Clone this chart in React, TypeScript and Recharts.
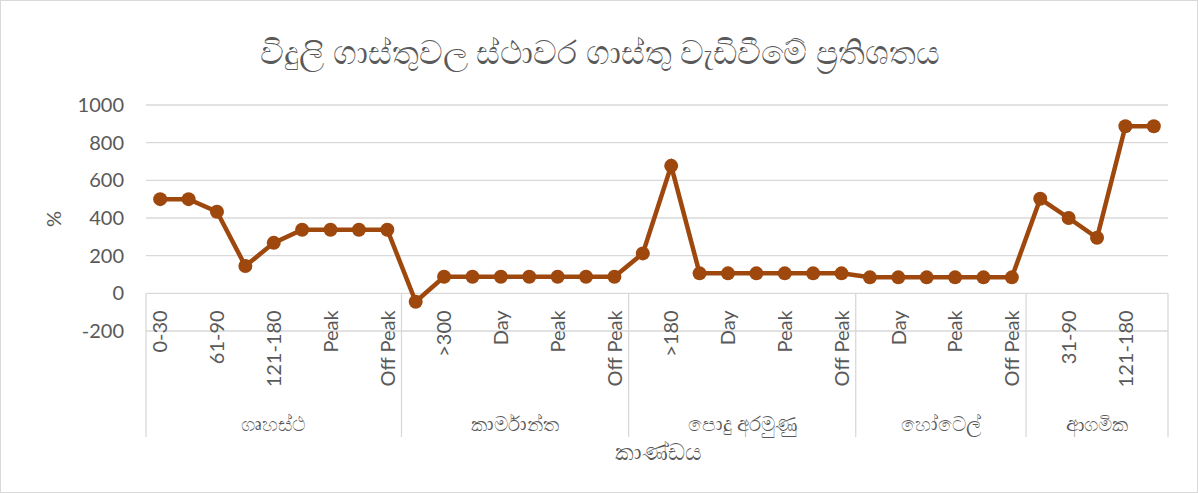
import React from "react";
import { LineChart, Line, XAxis, YAxis, CartesianGrid } from "recharts";

// categories by group
const groupNames = ["ගෘහස්ථ", "කාර්මාන්ත", "පොදු අරමුණු", "හෝටෙල්", "ආගමික"];

const householdLabels = ["0-30", "31-60", "61-90", "91-120", "121-180", ">180", "Peak", "Day", "Off Peak"];
const householdValues = [500, 500, 433, 145, 268, 338, 338, 338, 338];

const industrialLabels = ["0-300", ">300", "Peak", "Day", "Off Peak", "Peak", "Day", "Off Peak"];
const industrialValues = [-45, 88, 88, 88, 88, 88, 88, 88];

const generalLabels = ["0-180", ">180", "Peak", "Day", "Off Peak", "Peak", "Day", "Off Peak"];
const generalValues = [212, 677, 106, 106, 106, 106, 106, 106];

const hotelLabels = ["Peak", "Day", "Off Peak", "Peak", "Day", "Off Peak"];
const hotelValues = [85, 85, 85, 85, 85, 85];

const religiousLabels = ["0-30", "31-90", "91-120", "121-180", ">180"];
const religiousValues = [502, 400, 295, 887, 887];

const yTicks = [-200, 0, 200, 400, 600, 800, 1000];

const groupLabels = [householdLabels, industrialLabels, generalLabels, hotelLabels, religiousLabels];
const groupValues = [householdValues, industrialValues, generalValues, hotelValues, religiousValues];

const data = groupLabels.flatMap((labels, g) =>
  labels.map((label, i) => ({ group: groupNames[g], label, value: groupValues[g][i] }))
);

const W = 1198;
const H = 493;
const PLOT_L = 146;
const PLOT_R = 1168;
const PLOT_T = 105;
const PLOT_B = 331;
const ZERO_Y = PLOT_B - (200 * (PLOT_B - PLOT_T)) / 1200;
const STEP = (PLOT_R - PLOT_L) / data.length;
const SEP_BOTTOM = 437;
const TEXT = "#595959";
const GRID = "#d9d9d9";
const FONT = "Lato, 'Noto Sans', sans-serif";

const groupStarts: number[] = [];
groupLabels.reduce((acc, l) => {
  groupStarts.push(acc);
  return acc + l.length;
}, 0);

function CategoryTick(props: any) {
  const { x, index } = props;
  const g = groupStarts.indexOf(index);
  const row = data[index];
  return (
    <g>
      {index % 2 === 0 && (
        <text
          x={x}
          y={ZERO_Y + 17}
          transform={`rotate(-90, ${x}, ${ZERO_Y + 17})`}
          textAnchor="end"
          dy="0.36em"
          fill={TEXT}
          fontSize={20}
          fontFamily={FONT}
        >
          {row.label}
        </text>
      )}
      {g >= 0 && (
        <>
          <line x1={x - STEP / 2} x2={x - STEP / 2} y1={ZERO_Y} y2={SEP_BOTTOM} stroke={GRID} strokeWidth={1.3} />
          <text
            x={x + ((groupLabels[g].length - 1) * STEP) / 2}
            y={424}
            textAnchor="middle"
            dy="0.35em"
            fill={TEXT}
            fontSize={20}
            fontFamily={FONT}
          >
            {groupNames[g]}
          </text>
        </>
      )}
      {index === data.length - 1 && (
        <line x1={x + STEP / 2} x2={x + STEP / 2} y1={ZERO_Y} y2={SEP_BOTTOM} stroke={GRID} strokeWidth={1.3} />
      )}
    </g>
  );
}

export default function App() {
  return (
    <div
      style={{
        position: "fixed",
        left: 0,
        top: 0,
        width: W,
        height: H,
        boxSizing: "border-box",
        border: `1px solid ${GRID}`,
        background: "#fff",
        fontFamily: FONT,
      }}
    >
      <div
        style={{
          position: "absolute",
          left: 0,
          width: W,
          top: 28,
          textAlign: "center",
          fontSize: 33,
          lineHeight: "44px",
          color: TEXT,
        }}
      >
        විදුලි ගාස්තුවල ස්ථාවර ගාස්තු වැඩිවීමේ ප්‍රතිශතය
      </div>
      <div
        style={{
          position: "absolute",
          left: 52 - 20,
          top: 218 - 14,
          width: 40,
          height: 28,
          lineHeight: "28px",
          textAlign: "center",
          transform: "rotate(-90deg)",
          fontSize: 20,
          color: TEXT,
        }}
      >
        %
      </div>
      <div
        style={{
          position: "absolute",
          left: (PLOT_L + PLOT_R) / 2 - 100,
          width: 200,
          top: 436,
          textAlign: "center",
          fontSize: 23,
          lineHeight: "28px",
          color: TEXT,
        }}
      >
        කාණ්ඩය
      </div>
      <div style={{ position: "absolute", left: -1, top: -1 }}>
        <LineChart
          width={W}
          height={H}
          data={data}
          margin={{ top: PLOT_T, right: W - PLOT_R, bottom: 12, left: PLOT_L - 100 }}
        >
          <CartesianGrid vertical={false} stroke={GRID} strokeWidth={1.3} />
          <XAxis
            interval={0}
            height={H - PLOT_B - 12}
            padding={{ left: STEP / 2, right: STEP / 2 }}
            tickLine={false}
            axisLine={false}
            tick={(p: any) => <CategoryTick {...p} />}
          />
          <YAxis
            width={100}
            domain={[-200, 1000]}
            ticks={yTicks}
            tickLine={false}
            axisLine={false}
            tickSize={0}
            tickMargin={22}
            tick={{ fill: TEXT, fontSize: 20, fontFamily: FONT }}
          />
          <Line
            dataKey="value"
            stroke="#9E480E"
            strokeWidth={4.5}
            dot={{ r: 7, fill: "#9E480E", stroke: "#9E480E", strokeWidth: 0 }}
            activeDot={false}
            isAnimationActive={false}
          />
        </LineChart>
      </div>
    </div>
  );
}
